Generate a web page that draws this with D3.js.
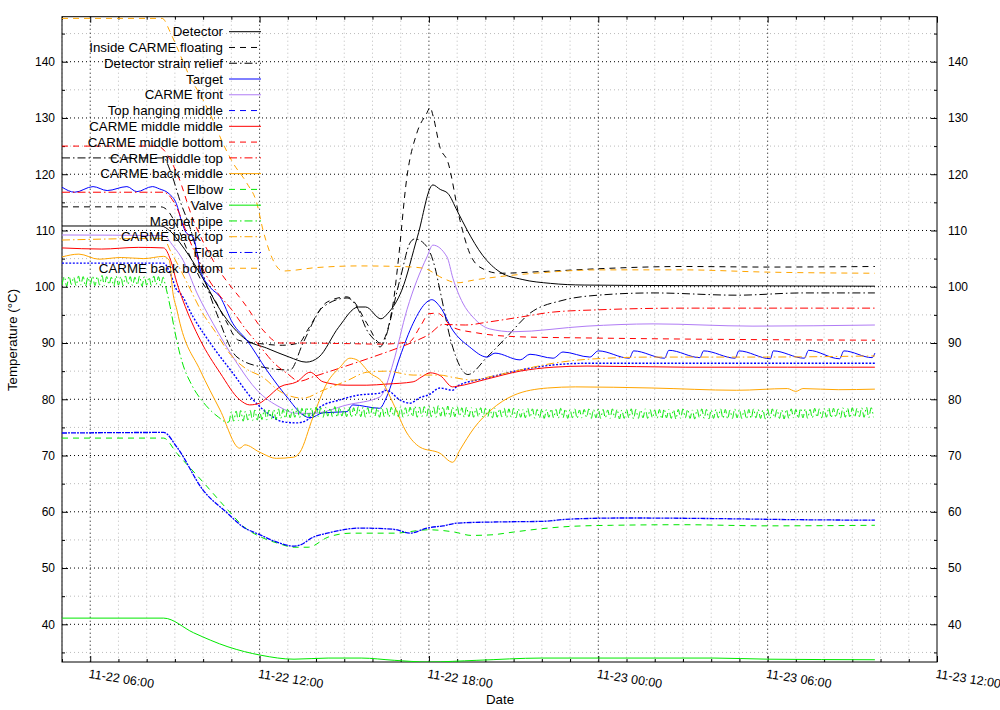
<!DOCTYPE html>
<html><head><meta charset="utf-8">
<script src="https://cdn.jsdelivr.net/npm/d3@7"></script>
<style>
body{margin:0;background:#fff;}
svg text{font-family:"Liberation Sans",Arial,sans-serif;font-size:13px;fill:#000;}
</style></head>
<body><svg id="c" width="1000" height="710"></svg>
<script>
// ---- data: [hour since 11-22 00:00, temperature °C] ----
const detector = [[5,110.8],[8.5,110.8],[8.85,109.8],[9.18,107.8],[9.89,102.4],[10.6,95.9],[11.55,90.5],[12.25,89.1],[13.05,87.5],[13.65,86.6],[14.1,87.5],[14.8,92.8],[15.5,96.4],[15.76,96.4],[16.3,94.3],[16.55,95.3],[17.04,99.4],[17.6,109],[18.14,118.1],[18.4,117.3],[18.67,116.6],[19.0,113.5],[19.35,110.1],[19.9,105.6],[20.52,102.6],[21.3,101.3],[22.3,100.6],[23.5,100.3],[27,100.2],[33.8,100.1]];
const insideFloating = [[5,114.2],[8.5,114.2],[8.75,113.5],[9.0,111.5],[9.5,105.8],[10.0,100.5],[10.35,98.2],[10.8,94],[11.25,90.5],[12.0,89.9],[12.8,89.6],[13.4,90.0],[13.7,92.3],[14.4,97.3],[15.1,98.2],[15.3,97.6],[15.8,93.5],[16.27,90.0],[16.73,97],[16.9,104],[17.22,119.5],[17.57,127.3],[17.93,130.9],[18.04,131.9],[18.15,130.3],[18.39,124.8],[18.67,122.2],[19.1,111.8],[19.44,106.0],[19.8,103.5],[20.5,102.4],[22,102.7],[24,103.2],[27,103.6],[30,103.5],[33.8,103.6]];
const strainRelief = [[5,122.9],[8.6,122.9],[8.83,120.7],[9.2,115],[9.53,110.6],[9.99,102.4],[10.5,95],[11.2,87.5],[12.12,85.7],[13.08,85.2],[13.54,90.0],[14.25,96.4],[15.1,98.0],[15.45,96.4],[15.8,92.3],[16.16,90.0],[16.26,89.3],[16.97,101.2],[17.33,107.8],[17.5,108.5],[17.93,107.1],[18.21,103.5],[18.39,99.4],[18.8,90],[19.38,84.4],[20.06,87.5],[20.76,91.1],[21.58,95.3],[22.75,97.6],[23.99,98.5],[25.94,98.9],[28.91,98.5],[31.25,98.9],[33.8,98.9]];
const target = [[5,117.7],[5.45,116.8],[6.1,117.8],[6.6,117.1],[7.3,117.8],[7.65,116.9],[8.2,117.8],[8.45,117.4],[8.8,116.5],[9.05,114.8],[9.25,111.4],[9.4,109.6],[9.65,108.8],[9.9,103],[10.25,99.9],[10.6,98.2],[11.05,93.5],[11.55,90.5],[12.25,85.2],[12.97,80.4],[13.54,77.2],[13.79,76.7],[14.25,77.6],[15.1,77.8],[15.3,79.0],[16.25,78.4],[16.5,80.4],[16.97,87.5],[17.44,93.5],[17.93,97.3],[18.1,97.7],[18.4,96.4],[18.84,92.3],[19.44,89.3],[20.06,87.5],[20.34,88.2],[21.23,87.0],[21.58,88.0],[22.4,87.3],[22.75,88.4],[23.7,87.5],[24.0,88.6],[25.1,87.3],[25.25,88.6],[26.35,87.3],[26.5,88.7],[27.6,87.4],[27.73,88.6],[28.85,87.3],[28.98,88.6],[30.1,87.2],[30.2,88.6],[31.3,87.3],[31.45,88.7],[32.55,87.2],[32.7,88.6],[33.7,87.4],[33.8,88.2]];
const carmeFront = [[5,109.2],[8.6,109.1],[8.93,107.3],[9.29,104.7],[9.78,98.9],[10.35,93.5],[11.2,86.4],[11.91,81.6],[12.72,78.6],[13.32,77.5],[13.89,77.5],[15.1,79.0],[16.26,80.4],[16.37,81.1],[16.73,86.4],[17.22,95.9],[17.93,105.3],[18.14,107.4],[18.64,105.3],[18.85,101.5],[19.2,97.1],[19.56,94.6],[20.16,92.5],[20.98,92.0],[23.6,93.0],[25.94,93.4],[29.48,93.0],[33.8,93.2]];
const topHanging = [[5,104.2],[8.6,104.2],[8.83,102.4],[9.07,99.4],[9.18,98.9],[9.65,94.6],[10.35,89.3],[11.06,84.6],[11.77,79.9],[12.37,77.2],[12.83,76.0],[13.32,75.8],[13.68,76.3],[14.14,78.6],[14.85,79.9],[15.45,80.7],[16.26,81.1],[16.5,81.6],[16.97,79.9],[17.33,79.3],[17.68,80.3],[18.0,80.8],[18.39,82.0],[18.84,81.6],[18.99,82.3],[20.06,83.8],[21.23,85.2],[22.4,86.1],[23.6,86.4],[33.8,86.4]];
const middleMiddle = [[5,106.9],[6.4,106.7],[7.7,107.0],[8.6,106.9],[8.85,104.7],[9.07,100.7],[9.29,97.5],[9.9,90.5],[10.6,84.7],[11.3,79.9],[11.65,79.0],[12.0,79.3],[12.25,80.2],[12.72,82.2],[13.32,83.1],[13.79,84.8],[14.25,83.1],[15.1,82.5],[15.8,82.5],[16.5,82.7],[17.44,83.1],[17.75,84.0],[18.04,84.7],[18.4,84.2],[18.84,82.2],[18.99,82.3],[20.06,83.6],[21.23,85.0],[22.4,85.7],[23.6,85.9],[27.1,85.7],[30.7,85.7],[33.8,85.7]];
const middleBottom = [[5,125.0],[8.37,125.0],[9.07,120.2],[9.64,112],[10.35,104.7],[11.55,96.4],[12.12,92.3],[12.72,90.0],[13.4,90.0],[15.0,89.9],[16.3,89.8],[17.3,90.2],[17.7,93],[18.0,95.2],[18.3,95.3],[18.84,92.8],[19.7,91.8],[21.23,91.1],[23.6,90.9],[27.1,90.7],[33.8,90.5]];
const middleTop = [[5,116.8],[8.6,116.8],[8.85,115.9],[9.05,114.2],[9.5,108.5],[10.0,103],[10.5,99],[11.0,96],[11.5,92.5],[12.0,89.5],[12.5,86.5],[13.0,84.5],[13.4,83.2],[13.9,84.0],[15.0,85.8],[16.0,87.5],[17.0,89.3],[17.5,90.3],[18.0,91.5],[18.5,93.3],[19.3,93.2],[20.06,93.7],[21.23,94.6],[22.4,95.5],[24,95.9],[27.1,96.2],[33.8,96.2]];
const backMiddle = [[5,105.3],[5.6,105.8],[6.3,104.9],[7.1,105.2],[7.9,105.0],[8.6,105.4],[8.8,104.7],[8.93,98.9],[9.07,95.9],[9.18,93.5],[9.89,85.2],[10.6,78.1],[11.3,71.3],[11.48,71.9],[12.0,70.6],[12.6,69.5],[13.2,69.7],[13.43,70.6],[13.89,76.8],[14.39,82.9],[14.85,85.7],[15.2,87.3],[15.45,87.0],[15.9,84.7],[16.37,82.9],[16.73,79.3],[17.22,74.0],[17.68,71.5],[18.39,70.4],[18.84,68.8],[19.1,71],[19.6,74.9],[20.2,78.1],[21.0,80.7],[22.2,82.0],[23.2,82.2],[25.9,82.0],[28.9,81.6],[30.7,81.9],[31.0,81.4],[31.25,81.9],[32.5,81.7],[33.8,81.8]];
const elbow = [[5,73.1],[8.6,73.1],[9.07,70.4],[10.03,65.1],[10.88,60.3],[11.45,57.3],[12.05,55.5],[12.65,54.4],[13.22,53.7],[13.72,53.7],[14.43,55.5],[15.24,56.2],[16.77,56.2],[17.97,56.8],[18.9,56.4],[19.5,55.8],[20.2,55.9],[21.0,56.4],[22.0,57.0],[23.0,57.4],[24.5,57.6],[27,57.7],[30,57.5],[33.8,57.6]];
const valve = [[5,41.1],[8.6,41.1],[9.66,38.5],[10.88,36.0],[12.05,34.5],[13.22,33.8],[14.43,34.0],[15.6,34.0],[16.77,33.6],[17.97,33.3],[19.7,33.6],[22.0,34.0],[24,34.0],[28.1,34.0],[30,33.8],[33.8,33.7]];
// Magnet pipe: 5-minute readings from 05:00, a drop section, then 5-minute readings from 10:55
const magnetPipeEarly = [100.3,101.8,100.1,101.9,100.4,101.7,100.2,101.9,100.3,101.8,100.1,101.7,
100.4,101.9,100.2,101.8,100.3,102.0,100.2,101.8,100.4,101.7,100.1,101.9,
100.3,101.8,100.2,101.9,100.4,101.8,100.2,101.7,100.3,101.9,100.1,101.8,
100.3,101.7,100.2,101.9,100.4,101.8,100.2,101.7];
const magnetPipeDrop = [[8.65,100.5],[8.83,96.5],[9.0,92],[9.18,88],[9.35,85.2],[9.53,83.2],[9.7,81.6],[9.89,80.2],[10.1,78.9],[10.31,77.8],[10.55,76.8],[10.85,75.9]];
const magnetPipeLate = [76.0,77.8,76.1,77.9,76.2,78.0,76.1,77.9,76.3,78.0,76.2,78.1,
76.3,78.0,76.4,78.2,76.3,78.1,76.5,78.2,76.4,78.3,76.6,78.2,
76.6,78.4,76.7,78.3,76.8,78.5,76.7,78.4,76.8,78.6,76.9,78.5,
76.8,78.6,76.9,78.5,76.8,78.6,77.0,78.5,76.9,78.7,76.8,78.6,
77.0,78.5,76.9,78.6,76.8,78.5,77.0,78.7,76.9,78.6,76.8,78.5,
76.9,78.6,77.0,78.5,76.8,78.6,76.9,78.4,76.8,78.6,77.0,78.5,
76.9,78.7,76.8,78.5,77.0,78.6,76.9,78.8,76.8,78.6,76.9,78.7,
77.0,78.8,76.9,78.6,76.8,78.9,77.0,78.7,76.9,78.8,76.8,78.6,
76.9,78.7,77.0,78.5,76.8,78.6,76.9,78.5,76.8,78.4,76.9,78.5,
76.8,78.4,76.9,78.3,76.7,78.4,76.8,78.3,76.9,78.4,76.7,78.3,
76.8,78.4,76.7,78.3,76.8,78.2,76.7,78.4,76.8,78.3,76.6,78.2,
76.7,78.3,76.6,78.2,76.8,78.3,76.7,78.2,76.6,78.4,76.7,78.3,
76.6,78.2,76.7,78.3,76.6,78.1,76.7,78.2,76.8,78.3,76.6,78.2,
76.7,78.3,76.6,78.2,76.7,78.1,76.6,78.3,76.7,78.2,76.5,78.1,
76.6,78.2,76.7,78.3,76.5,78.2,76.6,78.1,76.7,78.3,76.6,78.2,
76.7,78.1,76.6,78.2,76.5,78.3,76.7,78.2,76.6,78.1,76.5,78.2,
76.6,78.3,76.7,78.2,76.6,78.1,76.5,78.2,76.7,78.3,76.6,78.2,
76.5,78.1,76.6,78.2,76.7,78.3,76.6,78.2,76.5,78.1,76.6,78.3,
76.7,78.2,76.6,78.1,76.5,78.2,76.6,78.3,76.7,78.2,76.6,78.1,
76.5,78.2,76.6,78.3,76.7,78.2,76.6,78.1,76.5,78.2,76.6,78.3,
76.7,78.2,76.6,78.4,76.7,78.3,76.6,78.2,76.7,78.4,76.8,78.3,
76.7,78.4,76.8,78.5,76.7,78.4,76.8,78.3,76.7,78.5,76.8,78.4,
76.7,78.5,76.8,78.4,76.9,78.5,76.8,78.6,76.7,78.5,76.8];
const backTop = [[5,108.3],[8.6,108.6],[8.83,106.5],[9.2,103],[9.55,99.5],[9.9,96],[10.43,92],[10.96,88],[11.5,85.5],[12.12,83.9],[12.72,81.4],[13.54,80.2],[14.25,81.6],[15.1,83.3],[15.8,84.8],[16.5,85.0],[17.44,84.3],[18.39,84.3],[18.84,83.9],[19.56,83.4],[20.06,83.9],[21.23,85.2],[22.4,86.4],[23.6,87.1],[25.94,87.5],[29.48,87.5],[33.8,87.7]];
const float_ = [[5,74.0],[8.6,74.1],[9.07,71.5],[9.99,63.9],[10.85,59.8],[11.42,57.3],[12.02,55.9],[12.62,54.6],[13.19,53.9],[13.44,54.1],[13.9,55.5],[14.4,56.2],[14.95,56.8],[15.56,57.1],[16.73,56.9],[17.33,56.2],[17.93,57.1],[18.5,57.5],[19.03,58.0],[20.5,58.2],[22.0,58.3],[23.0,58.7],[25,58.9],[28,58.8],[31,58.6],[33.8,58.5]];
const backBottom = [[5,147.7],[8.55,147.7],[8.83,145.3],[9.07,142.6],[9.53,137.3],[10.0,133.2],[10.35,129.6],[10.7,125.5],[11.06,122.0],[11.55,118.4],[11.9,114.9],[12.12,110.1],[12.83,102.8],[14,103.4],[15.5,103.7],[17,103.6],[17.8,103.3],[18.5,101.5],[19.0,100.7],[19.6,101.2],[20.5,101.8],[22,102.5],[24,103.0],[27,103.0],[30,102.6],[33.8,102.4]];

const seriesNames = ["Detector","Inside CARME floating","Detector strain relief","Target","CARME front","Top hanging middle","CARME middle middle","CARME middle bottom","CARME middle top","CARME back middle","Elbow","Valve","Magnet pipe","CARME back top","Float","CARME back bottom"];
const yMajorTicks = [40,50,60,70,80,90,100,110,120,130,140];
const xTickHours = [6,12,18,24,30,36];

// build magnet pipe series
const magnetPipe = magnetPipeEarly.map((v,i)=>[5+i/12,v])
  .concat(magnetPipeDrop)
  .concat(magnetPipeLate.map((v,i)=>[10+55/60+i/12,v]));

const seriesData = [detector,insideFloating,strainRelief,target,carmeFront,topHanging,middleMiddle,middleBottom,middleTop,backMiddle,elbow,valve,magnetPipe,backTop,float_,backBottom];

const DASH = "6,5", DOTDASH = "8,3,1.5,3";
const styles = [
 {c:"#000000",d:null},{c:"#000000",d:DASH},{c:"#000000",d:DOTDASH},
 {c:"#0000ff",d:null},{c:"#b07cf5",d:null},{c:"#0000ff",d:DASH,ld:"2,1.6",w:1.4},
 {c:"#ff0000",d:null},{c:"#ff0000",d:DASH},{c:"#ff0000",d:DOTDASH},
 {c:"#ffa500",d:null},{c:"#00e800",d:DASH},{c:"#00e800",d:null},
 {c:"#00e800",d:DOTDASH},{c:"#ffa500",d:DOTDASH},{c:"#0000ff",d:DOTDASH,ld:"5,1,2,1",w:1.3},{c:"#ffa500",d:DASH}
];

const L=62,R=937,T=16.7,B=662;
const T0 = Date.UTC(2021,10,22,0,0);
const t = h => new Date(T0 + h*3600000);
const x = d3.scaleUtc().domain([t(5),t(36)]).range([L,R]);
const y = d3.scaleLinear().domain([33.3,148]).range([B,T]);
const svg = d3.select("#c");

// grid
const minorX = d3.range(5,37,1).filter(h=>h%6!==0).map(t);
const minorY = d3.range(35,150,5).filter(v=>v%10!==0 && v>33.3 && v<148);
const g = svg.append("g");
g.selectAll(".gxm").data(minorX).join("line").attr("x1",d=>x(d)).attr("x2",d=>x(d)).attr("y1",T).attr("y2",B)
  .attr("stroke","#bbbbbb").attr("stroke-dasharray","1,3").attr("stroke-width",1);
g.selectAll(".gym").data(minorY).join("line").attr("y1",d=>y(d)).attr("y2",d=>y(d)).attr("x1",L).attr("x2",R)
  .attr("stroke","#bbbbbb").attr("stroke-dasharray","1,3").attr("stroke-width",1);
g.selectAll(".gxM").data(xTickHours.slice(0,5).map(t)).join("line").attr("x1",d=>x(d)).attr("x2",d=>x(d)).attr("y1",T).attr("y2",B)
  .attr("stroke","#000").attr("stroke-dasharray","1,3").attr("stroke-width",1);
g.selectAll(".gyM").data(yMajorTicks).join("line").attr("y1",d=>y(d)).attr("y2",d=>y(d)).attr("x1",L).attr("x2",R)
  .attr("stroke","#000").attr("stroke-dasharray","1,3").attr("stroke-width",1);

// axes
function styleAxis(sel){ sel.select(".domain").remove(); sel.selectAll("text").style("font-family","'Liberation Sans',Arial,sans-serif").style("font-size","12px"); }
svg.append("g").attr("transform",`translate(${L},0)`).call(d3.axisLeft(y).tickValues(yMajorTicks).tickSize(-6).tickPadding(7)).call(styleAxis);
svg.append("g").attr("transform",`translate(${L},0)`).call(d3.axisLeft(y).tickValues(minorY).tickSize(-3).tickFormat("")).call(styleAxis);
svg.append("g").attr("transform",`translate(${R},0)`).call(d3.axisRight(y).tickValues(yMajorTicks).tickSize(-6).tickPadding(11)).call(styleAxis);
svg.append("g").attr("transform",`translate(${R},0)`).call(d3.axisRight(y).tickValues(minorY).tickSize(-3).tickFormat("")).call(styleAxis);
const fmt = d3.utcFormat("%m-%d %H:%M");
svg.append("g").attr("transform",`translate(0,${B})`).call(d3.axisBottom(x).tickValues(xTickHours.map(t)).tickSize(-6).tickFormat("")).call(styleAxis);
svg.append("g").attr("transform",`translate(0,${B})`).call(d3.axisBottom(x).tickValues(minorX).tickSize(-3).tickFormat("")).call(styleAxis);
svg.append("g").attr("transform",`translate(0,${T})`).call(d3.axisTop(x).tickValues(xTickHours.map(t)).tickSize(-6).tickFormat("")).call(styleAxis);
svg.append("g").attr("transform",`translate(0,${T})`).call(d3.axisTop(x).tickValues(minorX).tickSize(-3).tickFormat("")).call(styleAxis);
svg.selectAll(".tick line").attr("stroke","#000");
svg.append("g").selectAll("text").data(xTickHours.map(t)).join("text")
  .attr("transform",d=>`translate(${x(d)},${B+4}) rotate(9)`).attr("dy","0.95em").attr("text-anchor","start")
  .style("font-size","12.5px").text(d=>fmt(d));

// border
svg.append("rect").attr("x",L).attr("y",T).attr("width",R-L).attr("height",B-T).attr("fill","none").attr("stroke","#000").attr("stroke-width",1);

// labels
svg.append("text").attr("x",500).attr("y",704).attr("text-anchor","middle").style("font-size","13.3px").text("Date");
svg.append("text").attr("transform","translate(17,340) rotate(-90)").attr("text-anchor","middle").style("font-size","13.3px").text("Temperature (°C)");

// clip
svg.append("clipPath").attr("id","clip").append("rect").attr("x",L).attr("y",T).attr("width",R-L).attr("height",B-T);

const line = d3.line().x(d=>x(t(d[0]))).y(d=>y(d[1])).curve(d3.curveMonotoneX);
const plots = svg.append("g").attr("clip-path","url(#clip)");
const legend = svg.append("g");
seriesNames.forEach((name,i)=>{
  const s = styles[i];
  const ly = 31.7 + i*15.77;
  legend.append("text").attr("x",223).attr("y",ly).attr("dy","0.35em").attr("text-anchor","end").style("font-size","13.3px").text(name);
  legend.append("line").attr("x1",229).attr("x2",261).attr("y1",ly).attr("y2",ly)
    .attr("stroke",s.c).attr("stroke-width",1).attr("stroke-dasharray",s.d);
  plots.append("path").datum(seriesData[i]).attr("d",line).attr("fill","none")
    .attr("stroke",s.c).attr("stroke-width",s.w||1).attr("stroke-dasharray",s.ld||s.d);
});
</script></body></html>
